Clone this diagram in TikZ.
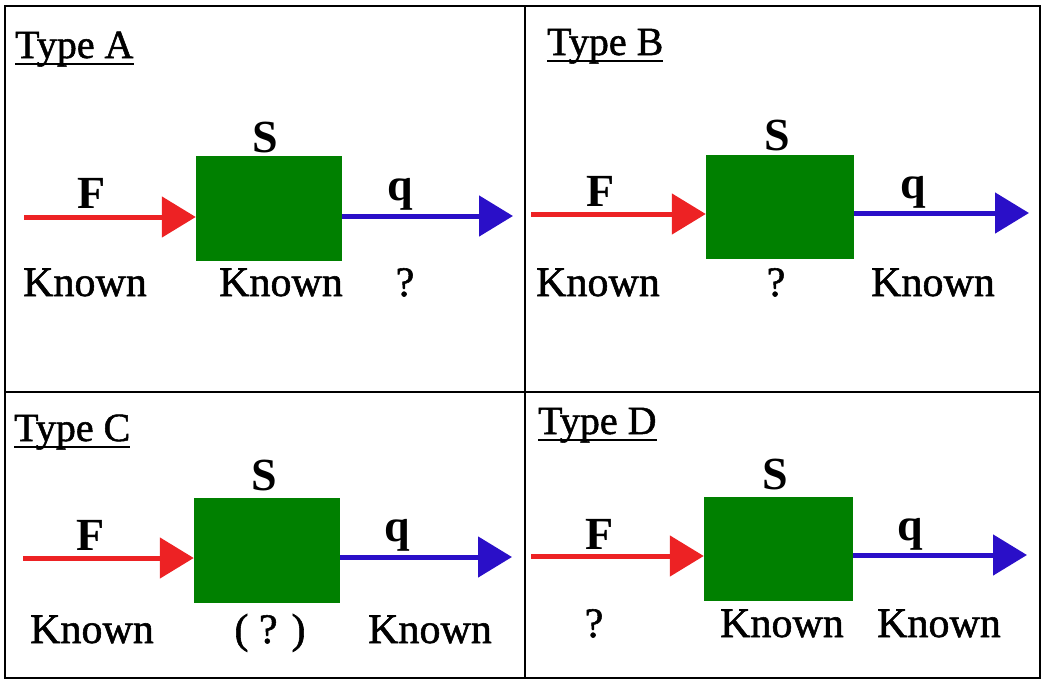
\documentclass[tikz,border=0pt]{standalone}
\usepackage{fontspec}
\setmainfont{Liberation Serif}
\newfontfamily\heavyserif{Liberation Serif}[FakeBold=1.3]
\usetikzlibrary{arrows.meta}
\definecolor{boxgreen}{RGB}{0,128,0}
\definecolor{fred}{RGB}{237,34,36}
\definecolor{qblue}{RGB}{42,15,200}
\tikzset{
  frame/.style={line width=2pt, black},
  sbox/.style={fill=boxgreen, draw=none, minimum width=146pt, minimum height=105pt, inner sep=0pt},
  redarr/.style={draw=fred, line width=5pt, -{Triangle[length=34pt,width=40pt,fill=fred]}},
  bluearr/.style={draw=qblue, line width=5pt, -{Triangle[length=34pt,width=40pt,fill=qblue]}},
  title/.style={anchor=base west, inner sep=0pt, font=\heavyserif\fontsize{40}{46}\selectfont},
  uline/.style={line width=2.2pt, black},
  sym/.style={anchor=base, inner sep=0pt, font=\fontsize{46}{52}\selectfont\bfseries},
  lab/.style={anchor=base, inner sep=0pt, font=\heavyserif\fontsize{42}{50}\selectfont},
}
\begin{document}
\begin{tikzpicture}[x=1pt,y=-1pt]
\useasboundingbox (0,0) rectangle (1042,681);
% frame
\draw[frame] (5,6) rectangle (1040,678);
\draw[frame] (525,6) -- (525,678);
\draw[frame] (5,392) -- (1040,392);

% ---------- Type A ----------
\node[title] (tA) at (15,58) {Type A};
\draw[uline] ([yshift=-6pt]tA.base west) -- ([yshift=-6pt]tA.base east);
\node[sbox] (boxA) at (269,208.5) {};
\coordinate (rA) at (24,217);
\coordinate (qA) at (513,216);
\draw[redarr] (rA) -- (rA -| boxA.west);
\draw[bluearr] (boxA.east |- qA) -- (qA);
\node[sym] (sA) at (265,152) {S};
\node[sym] (fA) at (92,208) {F};
\node[sym] (qlA) at (400,200) {q};
\node[lab] (k1A) at (85,296) {Known};
\node[lab] (k2A) at (281,296) {Known};
\node[lab] (k3A) at (405,296) {?};

% ---------- Type B ----------
\node[title] (tB) at (547,55) {Type B};
\draw[uline] ([yshift=-6pt]tB.base west) -- ([yshift=-6pt]tB.base east);
\node[sbox, minimum width=148pt, minimum height=104pt] (boxB) at (780,207) {};
\coordinate (rB) at (531,214);
\coordinate (qB) at (1029,213);
\draw[redarr] (rB) -- (rB -| boxB.west);
\draw[bluearr] (boxB.east |- qB) -- (qB);
\node[sym] (sB) at (777,150) {S};
\node[sym] (fB) at (601,206) {F};
\node[sym] (qlB) at (913,198) {q};
\node[lab] (k1B) at (598,296) {Known};
\node[lab] (k2B) at (776,296) {?};
\node[lab] (k3B) at (933,296) {Known};

% ---------- Type C ----------
\node[title] (tC) at (14,441) {Type C};
\draw[uline] ([yshift=-6pt]tC.base west) -- ([yshift=-6pt]tC.base east);
\node[sbox] (boxC) at (267,550.5) {};
\coordinate (rC) at (23,558);
\coordinate (qC) at (512,557);
\draw[redarr] (rC) -- (rC -| boxC.west);
\draw[bluearr] (boxC.east |- qC) -- (qC);
\node[sym] (sC) at (264,490) {S};
\node[sym] (fC) at (91,550) {F};
\node[sym] (qlC) at (397,541) {q};
\node[lab] (k1C) at (92,643) {Known};
\node[lab] (k2C) at (270,643) {( ? )};
\node[lab] (k3C) at (430,643) {Known};

% ---------- Type D ----------
\node[title] (tD) at (538,434) {Type D};
\draw[uline] ([yshift=-6pt]tD.base west) -- ([yshift=-6pt]tD.base east);
\node[sbox, minimum width=149pt, minimum height=104pt] (boxD) at (778.5,549) {};
\coordinate (rD) at (531,556);
\coordinate (qD) at (1027,555);
\draw[redarr] (rD) -- (rD -| boxD.west);
\draw[bluearr] (boxD.east |- qD) -- (qD);
\node[sym] (sD) at (775,489) {S};
\node[sym] (fD) at (600,549) {F};
\node[sym] (qlD) at (910,540) {q};
\node[lab] (k1D) at (594,637) {?};
\node[lab] (k2D) at (782,637) {Known};
\node[lab] (k3D) at (939,637) {Known};
\end{tikzpicture}
\end{document}
